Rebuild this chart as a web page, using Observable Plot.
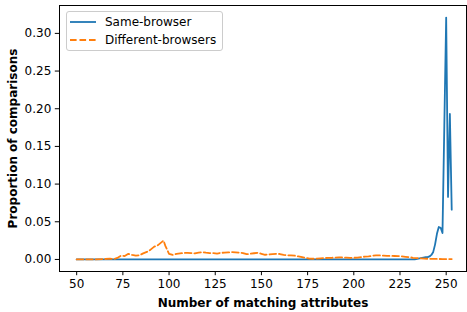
<!DOCTYPE html>
<html>
<head>
<meta charset="utf-8">
<script src="https://cdn.jsdelivr.net/npm/d3@7"></script>
<script src="https://cdn.jsdelivr.net/npm/@observablehq/plot@0.6"></script>
<style>
  html, body { margin: 0; padding: 0; background: #fff; }
  #wrap { position: relative; width: 467px; height: 312px; font-family: "DejaVu Sans", sans-serif; }
  #legend { position: absolute; left: 66px; top: 11px; width: 155px; height: 38px;
    border: 1px solid #cccccc; border-radius: 3px; background: rgba(255,255,255,0.8);
    font-size: 12px; color: #000; }
  #legend .row { position: absolute; left: 0; height: 16px; display: flex; align-items: center; }
  #legend svg { margin-left: 3px; }
  #legend span { margin-left: 9px; line-height: 16px; }
</style>
</head>
<body>
<div id="wrap"></div>
<script>
// Same-browser series (flat at zero until ~233)
const sameX = [50, 233, 235, 237, 239, 240, 241, 242, 243, 244, 245, 246, 247, 248, 249, 250, 251, 252, 253];
const sameY = [0, 0, 0.001, 0.002, 0.003, 0.003, 0.004, 0.006, 0.010, 0.020, 0.034, 0.043, 0.042, 0.035, 0.178, 0.321, 0.083, 0.193, 0.066];

// Different-browsers series
const diffX = [50, 55, 60, 65, 68, 70, 72, 74, 76, 78, 80, 82, 84, 86, 88, 90, 92, 94, 96, 97, 98, 100,
  102, 104, 106, 108, 110, 112, 114, 116, 118, 120, 122, 124, 126, 128, 130, 132, 134, 136, 138, 140,
  142, 144, 146, 148, 150, 152, 154, 156, 158, 160, 162, 164, 166, 168, 170, 172, 174, 176, 178, 180,
  182, 184, 186, 188, 190, 192, 194, 196, 198, 200, 202, 204, 206, 208, 210, 212, 214, 216, 218, 220,
  222, 224, 226, 228, 230, 232, 234, 236, 238, 240, 242, 244, 246, 248, 250, 252, 253];
const diffY = [0, 0, 0, 0.0005, 0.001, 0.0005, 0.002, 0.005, 0.0045, 0.0075, 0.006, 0.005, 0.0055, 0.008, 0.010, 0.013, 0.017, 0.019, 0.023, 0.025, 0.018, 0.0075,
  0.006, 0.0075, 0.008, 0.0085, 0.0088, 0.0085, 0.008, 0.009, 0.0097, 0.009, 0.0085, 0.0084, 0.0078, 0.0088, 0.009, 0.0093, 0.0097, 0.0095, 0.009, 0.0085,
  0.007, 0.0075, 0.0082, 0.0088, 0.0075, 0.0062, 0.0065, 0.007, 0.0075, 0.0072, 0.006, 0.0055, 0.0053, 0.005, 0.004, 0.003, 0.002, 0.001, 0.0009, 0.0012,
  0.0015, 0.0018, 0.002, 0.0022, 0.0025, 0.0027, 0.0026, 0.0024, 0.0022, 0.0022, 0.0025, 0.003, 0.0038, 0.0042, 0.0048, 0.0053, 0.0053, 0.005, 0.0048, 0.0047,
  0.0046, 0.0045, 0.004, 0.0035, 0.003, 0.0022, 0.0018, 0.0014, 0.001, 0.0009, 0.0008, 0.0008, 0.0006, 0.0005, 0.0005, 0.0005, 0.0005];

const xTicks = [50, 75, 100, 125, 150, 175, 200, 225, 250];
const yTicks = [0, 0.05, 0.10, 0.15, 0.20, 0.25, 0.30];
const seriesNames = ["Same-browser", "Different-browsers"];
const seriesColors = ["#1f77b4", "#ff7f0e"];
const xLabel = "Number of matching attributes";
const yLabel = "Proportion of comparisons";

const same = sameX.map((x, i) => ({x, y: sameY[i]}));
const diff = diffX.map((x, i) => ({x, y: diffY[i]}));

const chart = Plot.plot({
  width: 467,
  height: 312,
  marginLeft: 59,
  marginRight: 1,
  marginTop: 5,
  marginBottom: 41,
  style: {fontFamily: "DejaVu Sans", fontSize: "12px", color: "#000", background: "#fff"},
  x: {domain: [40.7, 261]},
  y: {domain: [-0.016, 0.337]},
  marks: [
    Plot.axisX({ticks: xTicks, tickSize: 4.2, tickPadding: 3.5, fontSize: 12, label: null, tickFormat: d3.format("d")}),
    Plot.axisY({ticks: yTicks, tickSize: 4.2, tickPadding: 4, fontSize: 12, label: null, tickFormat: d3.format(".2f")}),
    Plot.line(same, {x: "x", y: "y", stroke: seriesColors[0], strokeWidth: 1.8, strokeLinejoin: "round"}),
    Plot.line(diff, {x: "x", y: "y", stroke: seriesColors[1], strokeWidth: 1.8, strokeDasharray: "6.6,2.9", strokeLinejoin: "round"}),
    Plot.frame({stroke: "#000", strokeWidth: 1}),
    Plot.text([xLabel], {frameAnchor: "bottom", textAnchor: "middle", dy: 35, lineAnchor: "bottom", fontWeight: "bold", fontSize: 12}),
    Plot.text([yLabel], {frameAnchor: "left", textAnchor: "middle", dx: -43, rotate: -90, lineAnchor: "bottom", fontWeight: "bold", fontSize: 12})
  ]
});

const wrap = document.getElementById("wrap");
wrap.appendChild(chart);

const legend = document.createElement("div");
legend.id = "legend";
seriesNames.forEach((name, i) => {
  const row = document.createElement("div");
  row.className = "row";
  row.style.top = (i === 0 ? 2 : 20) + "px";
  const dash = i === 1 ? ' stroke-dasharray="6.6,2.9"' : "";
  row.innerHTML = `<svg width="26" height="4"><line x1="0" y1="2" x2="26" y2="2" stroke="${seriesColors[i]}" stroke-width="1.8"${dash}/></svg><span>${name}</span>`;
  legend.appendChild(row);
});
wrap.appendChild(legend);
</script>
</body>
</html>
